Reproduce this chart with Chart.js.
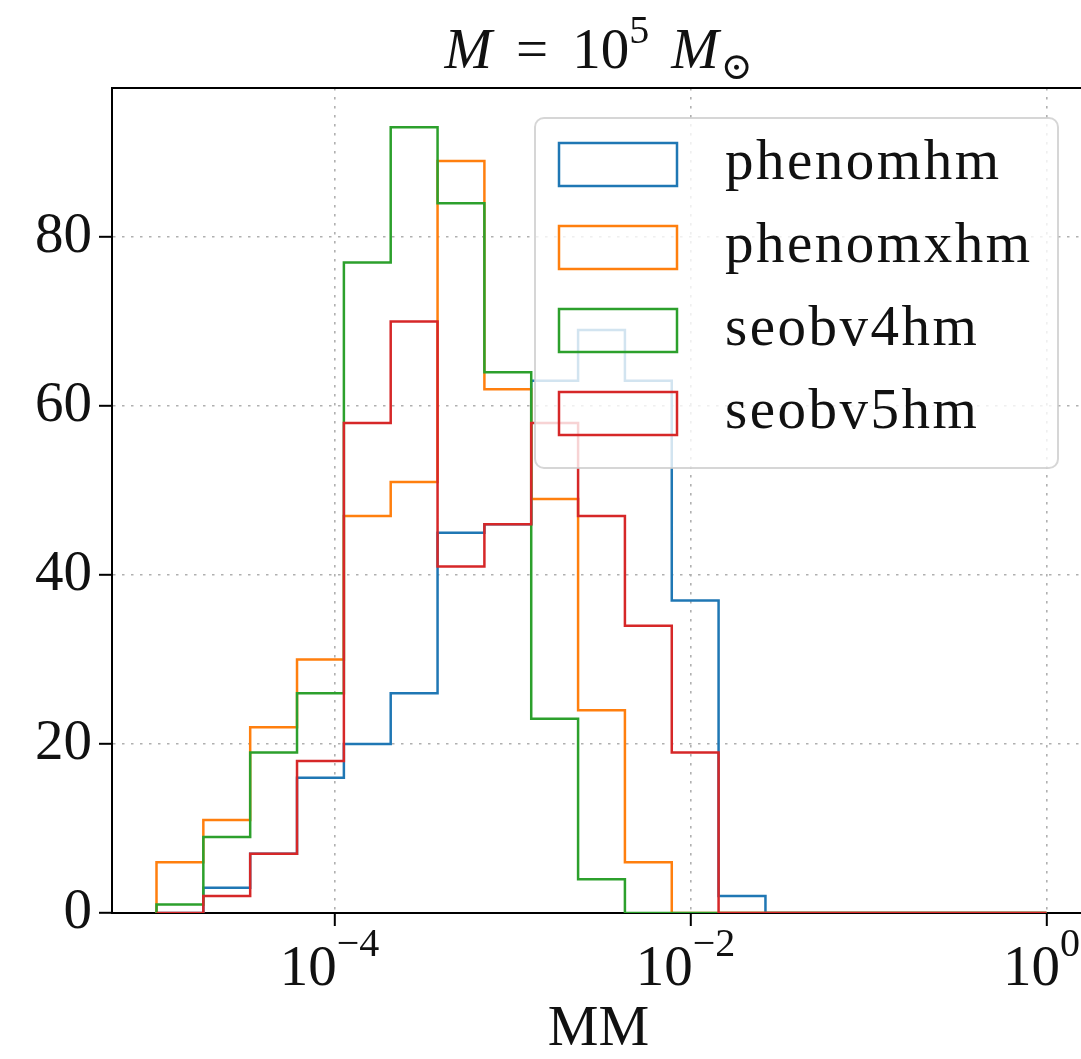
<!DOCTYPE html>
<html>
<head>
<meta charset="utf-8">
<script src="https://cdn.jsdelivr.net/npm/chart.js@4.4.0/dist/chart.umd.min.js"></script>
<style>
html,body{margin:0;padding:0;background:#fff;overflow:hidden;width:1081px;height:1059px}
canvas{display:block}
</style>
</head>
<body>
<canvas id="c" width="1100" height="1059" style="width:1100px;height:1059px"></canvas>
<script>
// ---- data ----
const binEdges = [1.000e-5, 1.833e-5, 3.360e-5, 6.158e-5, 1.129e-4, 2.069e-4, 3.793e-4,
  6.952e-4, 1.274e-3, 2.336e-3, 4.281e-3, 7.848e-3, 1.438e-2, 2.637e-2, 4.833e-2,
  8.859e-2, 0.1624, 0.2976, 0.5456, 1.0];
const phenomhm  = [0, 3, 7, 16, 20, 26, 45, 46, 63, 69, 63, 37, 2, 0, 0, 0, 0, 0, 0];
const phenomxhm = [6, 11, 22, 30, 47, 51, 89, 62, 49, 24, 6, 0, 0, 0, 0, 0, 0, 0, 0];
const seobv4hm  = [1, 9, 19, 26, 77, 93, 84, 64, 23, 4, 0, 0, 0, 0, 0, 0, 0, 0, 0];
const seobv5hm  = [0, 2, 7, 18, 58, 70, 41, 46, 58, 47, 34, 19, 0, 0, 0, 0, 0, 0, 0];
const seriesNames  = ['phenomhm', 'phenomxhm', 'seobv4hm', 'seobv5hm'];
const seriesCounts = [phenomhm, phenomxhm, seobv4hm, seobv5hm];
const seriesColors = ['#1f77b4', '#ff7f0e', '#2ca02c', '#d62728'];
const xTickValues   = [1e-4, 1e-2, 1];
const xTickBase     = ['10', '10', '10'];
const xTickExponent = ['\u22124', '\u22122', '0'];
const yTickValues   = [0, 20, 40, 60, 80];
const xAxisTitle = 'MM';
const xMin = Math.pow(10, -5.25), xMax = Math.pow(10, 0.25);
const yMin = 0, yMax = 97.65;

const SERIF = '"Liberation Serif", "DejaVu Serif", serif';
const FS = 57;

function stepPoints(edges, counts) {
  const pts = [{x: edges[0], y: 0}];
  for (let i = 0; i < counts.length; i++) pts.push({x: edges[i], y: counts[i]});
  pts.push({x: edges[edges.length - 1], y: counts[counts.length - 1]});
  pts.push({x: edges[edges.length - 1], y: 0});
  return pts;
}

const datasets = seriesNames.map((name, i) => ({
  label: name,
  data: stepPoints(binEdges, seriesCounts[i]),
  borderColor: seriesColors[i],
  backgroundColor: seriesColors[i],
  borderWidth: 2.5,
  stepped: 'before',
  pointRadius: 0,
  fill: false,
  tension: 0,
  order: seriesNames.length - i
}));

function drawRich(ctx, segs, cx, baseline) {
  let total = 0;
  segs.forEach(s => { ctx.font = s.f; s.w = ctx.measureText(s.t).width; total += s.w + (s.gap || 0); });
  let x = cx - total / 2;
  ctx.textAlign = 'left';
  ctx.textBaseline = 'alphabetic';
  segs.forEach(s => {
    ctx.font = s.f;
    ctx.fillText(s.t, x, baseline + (s.dy || 0));
    x += s.w + (s.gap || 0);
  });
}

const decor = {
  id: 'decor',
  afterDatasetsDraw(chart) {
    const ctx = chart.ctx;
    // legend
    const L = 535, T = 118, R = 1058, B = 468, rad = 9;
    ctx.save();
    ctx.beginPath();
    ctx.roundRect(L, T, R - L, B - T, rad);
    ctx.fillStyle = 'rgba(255,255,255,0.8)';
    ctx.fill();
    ctx.lineWidth = 2;
    ctx.strokeStyle = 'rgba(204,204,204,0.8)';
    ctx.stroke();
    const rowTop = [143, 226, 309, 392];
    seriesNames.forEach((name, i) => {
      ctx.lineWidth = 2.5;
      ctx.strokeStyle = seriesColors[i];
      ctx.strokeRect(559, rowTop[i], 118, 43);
      ctx.fillStyle = '#111';
      ctx.font = FS + 'px ' + SERIF;
      ctx.letterSpacing = '2.5px';
      ctx.textAlign = 'left';
      ctx.textBaseline = 'alphabetic';
      ctx.fillText(name, 725, rowTop[i] + 21.5 + 14);
      ctx.letterSpacing = '0px';
    });
    ctx.restore();
  },
  afterDraw(chart) {
    const ctx = chart.ctx;
    const a = chart.chartArea;
    ctx.save();
    // top & right spines
    ctx.strokeStyle = '#000';
    ctx.lineWidth = 2;
    ctx.beginPath();
    ctx.moveTo(a.left - 1, a.top);
    ctx.lineTo(a.right + 1, a.top);
    ctx.moveTo(a.right, a.top);
    ctx.lineTo(a.right, a.bottom);
    ctx.stroke();
    ctx.fillStyle = '#111';
    // x tick labels
    const xs = chart.scales.x;
    xTickValues.forEach((v, i) => {
      const px = xs.getPixelForValue(v);
      drawRich(ctx, [
        {t: xTickBase[i], f: FS + 'px ' + SERIF},
        {t: xTickExponent[i], f: '40px ' + SERIF, dy: -29}
      ], px - 5, 985);
    });
    // x axis title
    ctx.font = FS + 'px ' + SERIF;
    ctx.textAlign = 'center';
    ctx.textBaseline = 'alphabetic';
    ctx.fillText(xAxisTitle, (a.left + a.right) / 2 - 3, 1045);
    // chart title
    drawRich(ctx, [
      {t: 'M', f: 'italic ' + FS + 'px ' + SERIF, gap: 24},
      {t: '=', f: FS + 'px ' + SERIF, gap: 24},
      {t: '10', f: FS + 'px ' + SERIF},
      {t: '5', f: '40px ' + SERIF, dy: -25, gap: 22},
      {t: 'M', f: 'italic ' + FS + 'px ' + SERIF, gap: 2},
      {t: '\u2299', f: '38px "DejaVu Serif", ' + SERIF, dy: 11}
    ], (a.left + a.right) / 2 - 3, 68);
    ctx.restore();
  }
};

new Chart(document.getElementById('c'), {
  type: 'line',
  data: {datasets},
  options: {
    responsive: false,
    animation: false,
    devicePixelRatio: 1,
    layout: {padding: {top: 88, right: 9, left: 0, bottom: 0}},
    plugins: {legend: {display: false}, title: {display: false}, tooltip: {enabled: false}},
    scales: {
      x: {
        type: 'logarithmic',
        min: xMin, max: xMax,
        afterBuildTicks: s => { s.ticks = xTickValues.map(v => ({value: v})); },
        afterFit: s => { s.height = 146; },
        ticks: {display: false},
        grid: {color: '#b0b0b0', lineWidth: 1.6, drawTicks: true, tickLength: 13, tickColor: '#000', tickWidth: 2},
        border: {display: true, color: '#000', width: 2, dash: [2.5, 6.5]}
      },
      y: {
        type: 'linear',
        min: yMin, max: yMax,
        afterBuildTicks: s => { s.ticks = yTickValues.map(v => ({value: v})); },
        afterFit: s => { s.width = 112; },
        ticks: {
          color: '#111', padding: 7, autoSkip: false,
          font: {family: SERIF, size: FS},
          callback: v => String(v)
        },
        grid: {color: '#b0b0b0', lineWidth: 1.6, drawTicks: true, tickLength: 13, tickColor: '#000', tickWidth: 2},
        border: {display: true, color: '#000', width: 2, dash: [2.5, 6.5]}
      }
    }
  },
  plugins: [decor]
});
</script>
</body>
</html>
